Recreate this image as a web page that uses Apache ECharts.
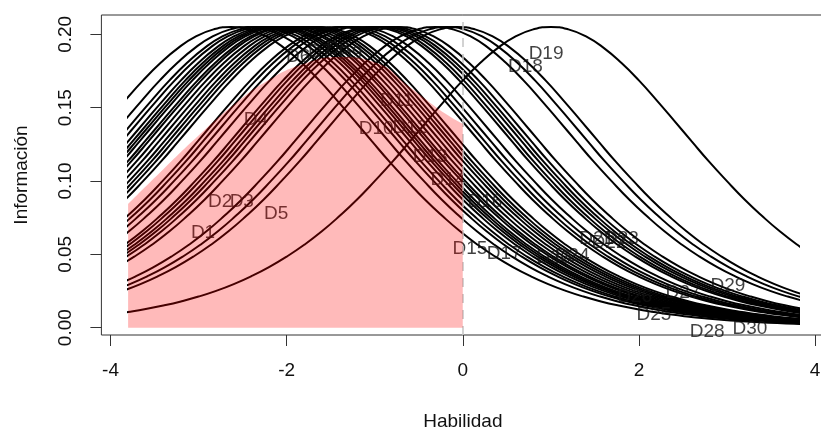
<!DOCTYPE html>
<html>
<head>
<meta charset="utf-8">
<script src="https://cdn.jsdelivr.net/npm/echarts@6/dist/echarts.min.js"></script>
<style>
html, body { margin: 0; padding: 0; background: #fff; overflow: hidden; }
#chart { width: 840px; height: 428px; }
</style>
</head>
<body>
<div id="chart"></div>
<script>
// where each item curve peaks on the ability scale
var difficulties = [-2.63, -2.44, -2.33, -2.27, -2.20, -2.15, -2.11, -2.07, -2.01, -1.97,
    -1.91, -1.85, -1.79, -1.74, -1.69, -1.63, -1.41, -1.35, -1.28, -1.19,
    -1.04, -0.99, -0.93, -0.88, -0.82, -0.73, -0.31, -0.18, -0.06, 1.00];

// one curve profile: distance from its peak -> information
var shapeDist = [0, 0.2, 0.4, 0.6, 0.8, 1.0, 1.2, 1.4, 1.6, 1.8, 2.0, 2.2, 2.4, 2.6, 2.8, 3.0,
    3.2, 3.4, 3.6, 3.8, 4.0, 4.2, 4.4, 4.6, 4.8, 5.0, 5.2, 5.4, 5.6, 5.8, 6.0, 6.2, 6.4, 6.6, 6.8];
var shapeInfo = [0.2051, 0.2034, 0.1986, 0.1908, 0.1806, 0.1686, 0.1552, 0.1412, 0.1270, 0.1130,
    0.0999, 0.0874, 0.0761, 0.0657, 0.0565, 0.0484, 0.0413, 0.0351, 0.0297, 0.0251,
    0.0212, 0.0179, 0.0151, 0.0127, 0.0107, 0.0089, 0.0075, 0.0063, 0.0052, 0.0044,
    0.0037, 0.0031, 0.0026, 0.0021, 0.0018];

// shaded region (ability below 0)
var areaTheta = [-3.8, -3.4, -3.0, -2.6, -2.2, -1.8, -1.4, -1.0, -0.6, -0.2, 0];
var areaInfo = [0.0843, 0.108, 0.131, 0.152, 0.169, 0.180, 0.1845, 0.181, 0.164, 0.146, 0.139];

// item labels
var labelNames = ['D1', 'D2', 'D3', 'D4', 'D5', 'D6', 'D7', 'D8', 'D9', 'D10',
    'D11', 'D12', 'D13', 'D14', 'D15', 'D16', 'D17', 'D18', 'D19', 'D20',
    'D21', 'D22', 'D23', 'D24', 'D25', 'D26', 'D27', 'D28', 'D29', 'D30'];
var labelTheta = [-2.95, -2.755, -2.51, -2.35, -2.12, -1.87, -1.62, -1.42, -1.28, -0.985,
    -0.75, -0.60, -0.37, -0.17, 0.08, 0.25, 0.47, 0.71, 0.945, 1.03,
    1.52, 1.66, 1.80, 1.24, 2.17, 1.95, 2.5, 2.775, 3.01, 3.26];
var labelInfo = [0.0646, 0.0856, 0.0856, 0.1416, 0.0775, 0.1845, 0.188, 0.190, 0.187, 0.1355,
    0.155, 0.136, 0.1164, 0.1007, 0.0536, 0.0857, 0.0502, 0.1777, 0.1866, 0.048,
    0.0607, 0.058, 0.0607, 0.0488, 0.0087, 0.021, 0.024, -0.003, 0.0284, -0.001];

var xTicks = [-4, -2, 0, 2, 4];
var yTicks = [0, 0.05, 0.10, 0.15, 0.20];

var font = 'Liberation Sans, Arial, Helvetica, sans-serif';
var yMin = -0.005, yMax = 0.2132;

var series = [];

difficulties.forEach(function (b) {
    var pts = [];
    for (var k = shapeDist.length - 1; k > 0; k--) pts.push([b - shapeDist[k], shapeInfo[k]]);
    for (var j = 0; j < shapeDist.length; j++) pts.push([b + shapeDist[j], shapeInfo[j]]);
    series.push({
        type: 'line',
        xAxisIndex: 1,
        yAxisIndex: 1,
        data: pts,
        smooth: true,
        showSymbol: false,
        clip: true,
        silent: true,
        lineStyle: { color: '#000', width: 2 },
        z: 2
    });
});

series.push({
    type: 'scatter',
    xAxisIndex: 0,
    yAxisIndex: 0,
    data: labelTheta.map(function (t, i) { return [t, labelInfo[i], labelNames[i]]; }),
    symbolSize: 1,
    itemStyle: { color: 'rgba(0,0,0,0)' },
    silent: true,
    label: {
        show: true,
        position: 'inside',
        formatter: function (p) { return p.data[2]; },
        color: '#111',
        fontSize: 19,
        fontFamily: font
    },
    markLine: {
        silent: true,
        symbol: 'none',
        label: { show: false },
        lineStyle: { color: '#c4c4c4', type: [9, 7], width: 1.5 },
        data: [{ xAxis: 0 }]
    },
    z: 3
});

series.push({
    type: 'line',
    xAxisIndex: 1,
    yAxisIndex: 1,
    data: areaTheta.map(function (t, i) { return [t, areaInfo[i]]; }),
    smooth: true,
    showSymbol: false,
    silent: true,
    lineStyle: { width: 0, opacity: 0 },
    areaStyle: { color: 'rgba(255,0,0,0.27)', origin: 'auto', opacity: 1 },
    z: 10
});

var chart = echarts.init(document.getElementById('chart'));
chart.setOption({
    animation: false,
    backgroundColor: '#fff',
    grid: [
        { left: 101.4, top: 15, width: 722.9, height: 320, show: true, borderColor: '#333', borderWidth: 1, backgroundColor: 'transparent', outerBoundsMode: 'none', containLabel: false },
        { left: 128.1, top: 15, width: 669.3, height: 320, show: false, outerBoundsMode: 'none', containLabel: false }
    ],
    xAxis: [{
        type: 'value', gridIndex: 0, min: -4.104, max: 4.104,
        name: 'Habilidad', nameLocation: 'middle', nameGap: 77,
        nameTextStyle: { fontSize: 19, color: '#111', fontFamily: font },
        axisLine: { show: false, onZero: false },
        axisTick: { show: true, length: 11, lineStyle: { color: '#333' }, customValues: xTicks },
        axisLabel: { fontSize: 19, color: '#111', fontFamily: font, margin: 26, customValues: xTicks },
        splitLine: { show: false }
    }, {
        type: 'value', gridIndex: 1, min: -3.8, max: 3.8, show: false
    }],
    yAxis: [{
        type: 'value', gridIndex: 0, min: yMin, max: yMax,
        name: 'Información', nameLocation: 'middle', nameGap: 70, nameRotate: 90,
        nameTextStyle: { fontSize: 19, color: '#111', fontFamily: font },
        axisLine: { show: false, onZero: false },
        axisTick: { show: true, length: 11, lineStyle: { color: '#333' }, customValues: yTicks },
        axisLabel: {
            fontSize: 19, color: '#111', fontFamily: font, margin: 26, rotate: 90,
            customValues: yTicks,
            formatter: function (v) { return v.toFixed(2); }
        },
        splitLine: { show: false }
    }, {
        type: 'value', gridIndex: 1, min: yMin, max: yMax, show: false
    }],
    series: series
});
</script>
</body>
</html>
